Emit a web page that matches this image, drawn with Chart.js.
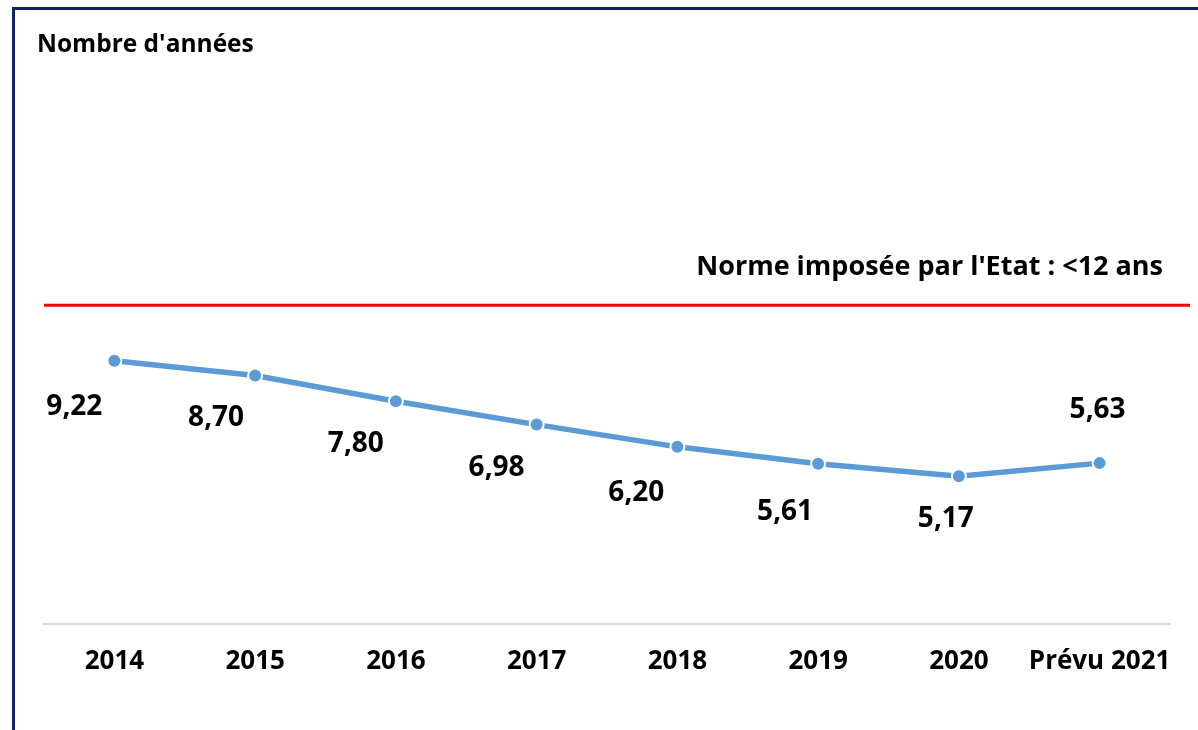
<!DOCTYPE html>
<html>
<head>
<meta charset="utf-8">
<script src="https://cdn.jsdelivr.net/npm/chart.js@4"></script>
<style>
html,body{margin:0;padding:0;background:#fff;}
#wrap{width:1198px;height:730px;position:relative;}
</style>
</head>
<body>
<div id="wrap"><canvas id="c" width="1198" height="730"></canvas></div>
<script>
const categories = ['2014','2015','2016','2017','2018','2019','2020','Prévu 2021'];
const values = [9.22, 8.70, 7.80, 6.98, 6.20, 5.61, 5.17, 5.63];
const normeValue = 12;
const yAxisTitle = "Nombre d'années";
const normeLabel = "Norme imposée par l'Etat : <12 ans";

const labelOffsets = [[-40,46],[-39,43],[-40,43],[-40,43],[-41,46],[-33,48],[-13,43],[-2,-53]];
const FONT = '"Open Sans", Lato, sans-serif';

const decor = {
  id: 'decor',
  beforeDraw(chart) {
    const ctx = chart.ctx;
    ctx.save();
    ctx.fillStyle = '#ffffff';
    ctx.fillRect(0, 0, chart.width, chart.height);
    ctx.fillStyle = '#0f2663';
    ctx.fillRect(12, 7, chart.width - 12, 3);
    ctx.fillRect(12, 7, 3, chart.height - 7);
    ctx.restore();
  },
  afterDraw(chart) {
    const ctx = chart.ctx;
    const area = chart.chartArea;
    const y2 = chart.scales.y2;
    ctx.save();
    const ny = y2.getPixelForValue(normeValue);
    ctx.strokeStyle = '#ff0000';
    ctx.lineWidth = 3;
    ctx.beginPath();
    ctx.moveTo(area.left, ny);
    ctx.lineTo(chart.width - 8, ny);
    ctx.stroke();
    ctx.fillStyle = '#000';
    ctx.font = 'bold 27px ' + FONT;
    ctx.textAlign = 'right';
    ctx.textBaseline = 'middle';
    ctx.fillText(normeLabel, 1163, ny - 38);
    ctx.font = 'bold 24.5px ' + FONT;
    ctx.textAlign = 'left';
    ctx.fillText(yAxisTitle, 37, 45);
    const meta = chart.getDatasetMeta(0);
    ctx.font = 'bold 28px ' + FONT;
    ctx.textAlign = 'center';
    meta.data.forEach((pt, i) => {
      const o = labelOffsets[i];
      ctx.fillText(values[i].toFixed(2).replace('.', ','), pt.x + o[0], pt.y + o[1]);
    });
    ctx.restore();
  }
};

new Chart(document.getElementById('c'), {
  type: 'line',
  data: {
    labels: categories,
    datasets: [{
      data: values,
      borderColor: '#5b9bd5',
      borderWidth: 5.5,
      pointRadius: 7,
      pointBackgroundColor: '#5b9bd5',
      pointBorderColor: '#ffffff',
      pointBorderWidth: 2,
      tension: 0,
      clip: false
    }]
  },
  options: {
    responsive: false,
    animation: false,
    devicePixelRatio: 1,
    layout: { padding: { left: 44, right: 28, top: 53, bottom: 31 } },
    plugins: { legend: { display: false }, tooltip: { enabled: false } },
    scales: {
      x: {
        offset: true,
        grid: { display: false, drawTicks: false },
        border: { display: true, color: '#d9d9d9', width: 2 },
        ticks: { color: '#000', font: { family: FONT, size: 26, weight: 'bold' }, padding: 22, maxRotation: 0, minRotation: 0, autoSkip: false }
      },
      y: { display: false, min: 0, max: 20 },
      y2: { display: false, min: 0, max: 21.5 }
    }
  },
  plugins: [decor]
});
</script>
</body>
</html>
